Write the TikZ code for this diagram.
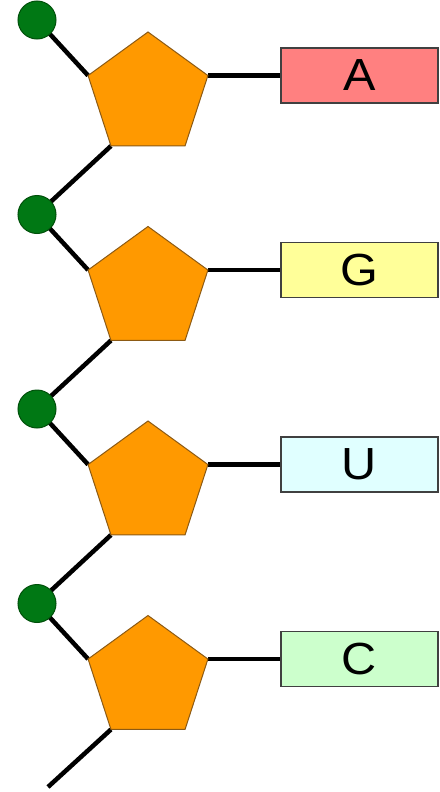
\documentclass[tikz,border=0pt]{standalone}
\usepackage{fontspec}
\setmainfont{Liberation Sans}
\usetikzlibrary{shapes.geometric}
\pgfdeclarelayer{bg}
\pgfsetlayers{bg,main}
\definecolor{sugar}{RGB}{255,153,0}
\definecolor{sugaredge}{RGB}{140,90,20}
\definecolor{phos}{RGB}{0,120,20}
\definecolor{phosedge}{RGB}{0,80,10}
\definecolor{baseA}{RGB}{255,128,128}
\definecolor{baseG}{RGB}{255,255,153}
\definecolor{baseU}{RGB}{224,255,255}
\definecolor{baseC}{RGB}{204,255,204}
\tikzset{
  phosphate/.style={circle, fill=phos, draw=phosedge, line width=1pt, minimum size=38pt, inner sep=0pt, outer sep=0pt},
  ribose/.style={regular polygon, regular polygon sides=5, fill=sugar, draw=sugaredge, line width=1pt, minimum size=126pt, inner sep=0pt, outer sep=0pt},
  basebox/.style={rectangle, draw=black!75, line width=1.5pt, minimum width=157pt, minimum height=55pt, inner sep=0pt, outer sep=0pt, font=\fontsize{45}{45}\selectfont},
  bond/.style={draw=black, line width=4.5pt}
}
\newcommand{\wideletter}[1]{\scalebox{1.08}[1]{#1}}
\begin{document}
\begin{tikzpicture}[x=1pt,y=-1pt]
\useasboundingbox (0,0) rectangle (439,792);
\foreach \i/\b/\col in {0/A/baseA,1/G/baseG,2/U/baseU,3/C/baseC}{
  \pgfmathsetmacro{\dy}{194.5*\i}
  \node[phosphate] (c\i) at (37,20+\dy) {};
  \node[ribose] (p\i) at (148,95+\dy) {};
  \node[basebox, fill=\col] (b\i) at (359.5,75.5+\dy) {\wideletter{\b}};
  \begin{pgfonlayer}{bg}
    \draw[bond] (c\i) -- (p\i.corner 2);
    \draw[bond] (p\i.corner 5) -- (p\i.corner 5 -| b\i.west);
  \end{pgfonlayer}
}
\begin{pgfonlayer}{bg}
\foreach \i/\j in {0/1,1/2,2/3}{
  \draw[bond] (p\i.corner 3) -- (c\j);
}
\coordinate (tail) at (48,787);
\draw[bond] (p3.corner 3) -- (tail);
\end{pgfonlayer}
\end{tikzpicture}
\end{document}
